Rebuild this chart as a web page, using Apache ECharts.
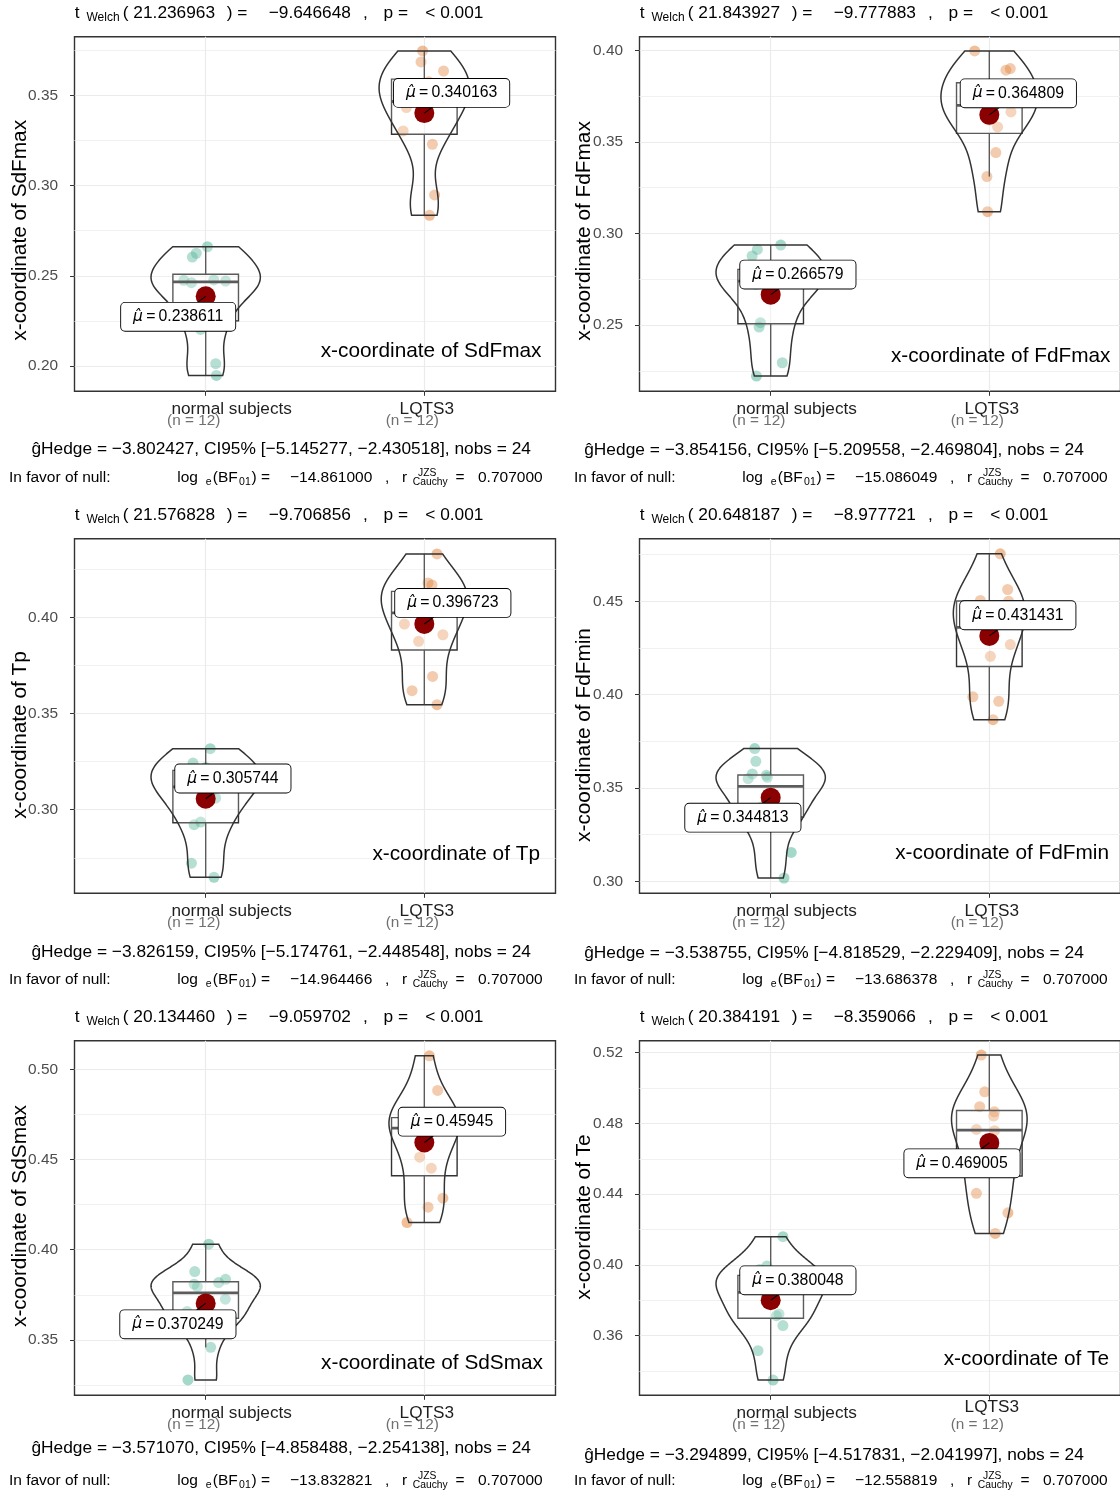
<!DOCTYPE html>
<html><head><meta charset="utf-8">
<script src="https://cdn.jsdelivr.net/npm/echarts@6/dist/echarts.min.js"></script>
<style>html,body{margin:0;padding:0;background:#fff}#c{width:1120px;height:1496px}</style>
</head><body><div id="c"></div>
<script>
// ---------------- data ----------------
const categories = ["normal subjects", "LQTS3"];
const groupN = [12, 12];
const panelVariables = ["SdFmax", "FdFmax", "Tp", "FdFmin", "SdSmax", "Te"];

const sdfmaxNormal = [0.2661, 0.2625, 0.2604, 0.2475, 0.2462, 0.2477, 0.2471, 0.2203, 0.2013, 0.1948, 0.2266, 0.2410];
const sdfmaxNormalJitter = [0.008, -0.043, -0.061, -0.100, -0.065, 0.037, 0.091, -0.023, 0.046, 0.049, -0.030, 0.010];
const sdfmaxLqts3 = [0.3746, 0.3685, 0.3635, 0.3552, 0.3432, 0.3303, 0.3229, 0.2948, 0.2835, 0.3420, 0.3500, 0.3575];
const sdfmaxLqts3Jitter = [-0.008, -0.015, 0.088, 0.050, -0.082, -0.097, 0.037, 0.047, 0.024, 0.010, -0.040, 0.020];

const fdfmaxNormal = [0.2937, 0.2913, 0.2877, 0.2722, 0.2513, 0.2489, 0.2294, 0.2221, 0.2780, 0.2765, 0.2745, 0.2734];
const fdfmaxNormalJitter = [0.046, -0.061, -0.085, -0.068, -0.047, -0.053, 0.053, -0.065, 0.040, -0.020, 0.070, 0.000];
const fdfmaxLqts3 = [0.3997, 0.3901, 0.3892, 0.3664, 0.3582, 0.3442, 0.3311, 0.3119, 0.3801, 0.3760, 0.3735, 0.3620];
const fdfmaxLqts3Jitter = [-0.067, 0.096, 0.076, 0.099, 0.038, 0.030, -0.011, -0.008, 0.050, -0.060, 0.020, 0.000];

const tpNormal = [0.3318, 0.3243, 0.3061, 0.2936, 0.2922, 0.2722, 0.2648, 0.3220, 0.3200, 0.3180, 0.3140, 0.3099];
const tpNormalJitter = [0.021, -0.058, 0.046, -0.023, -0.053, -0.065, 0.038, 0.000, -0.040, 0.060, -0.080, 0.030];
const tpLqts3 = [0.4332, 0.4181, 0.4170, 0.3967, 0.3911, 0.3877, 0.3694, 0.3620, 0.3547, 0.4126, 0.4100, 0.4082];
const tpLqts3Jitter = [0.058, 0.017, 0.035, -0.091, 0.085, -0.026, 0.038, -0.056, 0.058, 0.040, -0.050, 0.070];

const fdfminNormal = [0.3711, 0.3643, 0.3575, 0.3550, 0.3568, 0.3557, 0.3155, 0.3018, 0.3468, 0.3400, 0.3360, 0.3300];
const fdfminNormalJitter = [-0.073, -0.068, -0.084, -0.103, -0.020, -0.015, 0.094, 0.061, 0.000, -0.040, 0.050, -0.020];
const fdfminLqts3 = [0.4754, 0.4563, 0.4500, 0.4504, 0.4268, 0.4205, 0.3988, 0.3964, 0.3866, 0.4470, 0.4405, 0.4315];
const fdfminLqts3Jitter = [0.050, 0.084, 0.088, -0.041, 0.096, 0.005, -0.075, 0.043, 0.017, -0.020, 0.060, 0.000];

const sdsmaxNormal = [0.4031, 0.3879, 0.3809, 0.3796, 0.3818, 0.3836, 0.3726, 0.3657, 0.3459, 0.3278, 0.3605, 0.3625];
const sdsmaxNormalJitter = [0.014, -0.050, -0.053, -0.038, 0.059, 0.091, 0.090, -0.085, 0.023, -0.081, -0.030, 0.040];
const sdsmaxLqts3 = [0.5075, 0.4883, 0.4513, 0.4452, 0.4286, 0.4236, 0.4151, 0.4640, 0.4708, 0.4720, 0.4730, 0.4740];
const sdsmaxLqts3Jitter = [0.023, 0.061, -0.021, 0.032, 0.085, 0.017, -0.079, 0.000, -0.060, 0.080, -0.030, 0.020];

const teNormal = [0.4160, 0.3994, 0.3722, 0.3713, 0.3657, 0.3515, 0.3349, 0.3975, 0.3930, 0.3901, 0.3870, 0.3820];
const teNormalJitter = [0.056, -0.017, 0.038, 0.026, 0.056, -0.058, 0.011, -0.050, 0.070, -0.030, 0.040, -0.020];
const teLqts3 = [0.5187, 0.4979, 0.4895, 0.4866, 0.4842, 0.4766, 0.4759, 0.4405, 0.4295, 0.4178, 0.4536, 0.4573];
const teLqts3Jitter = [-0.037, -0.021, -0.044, 0.023, 0.020, -0.059, 0.024, -0.059, 0.085, 0.027, -0.050, 0.060];

const meanNormal = [0.238611, 0.266579, 0.305744, 0.344813, 0.370249, 0.380048];
const meanLqts3 = [0.340163, 0.364809, 0.396723, 0.431431, 0.45945, 0.469005];

const yMin = [0.1860, 0.2138, 0.2565, 0.2936, 0.3193, 0.3263];
const yMax = [0.3825, 0.4075, 0.4411, 0.4835, 0.5159, 0.5268];
const yTicks = [[0.20,0.25,0.30,0.35],[0.25,0.30,0.35,0.40],[0.30,0.35,0.40],[0.30,0.35,0.40,0.45],[0.35,0.40,0.45,0.50],[0.36,0.40,0.44,0.48,0.52]];
const yMinorTicks = [[0.225,0.275,0.325,0.375],[0.225,0.275,0.325,0.375],[0.275,0.325,0.375,0.425],[0.325,0.375,0.425,0.475],[0.325,0.375,0.425,0.475],[0.34,0.38,0.42,0.46,0.50]];

const tDf = ["21.236963", "21.843927", "21.576828", "20.648187", "20.134460", "20.384191"];
const tStat = ["\u22129.646648", "\u22129.777883", "\u22129.706856", "\u22128.977721", "\u22129.059702", "\u22128.359066"];
const pText = ["< 0.001", "< 0.001", "< 0.001", "< 0.001", "< 0.001", "< 0.001"];
const gHedge = ["\u22123.802427", "\u22123.854156", "\u22123.826159", "\u22123.538755", "\u22123.571070", "\u22123.294899"];
const ciLow = ["\u22125.145277", "\u22125.209558", "\u22125.174761", "\u22124.818529", "\u22124.858488", "\u22124.517831"];
const ciHigh = ["\u22122.430518", "\u22122.469804", "\u22122.448548", "\u22122.229409", "\u22122.254138", "\u22122.041997"];
const logBF01 = ["\u221214.861000", "\u221215.086049", "\u221214.964466", "\u221213.686378", "\u221213.832821", "\u221212.558819"];
const rCauchy = ["0.707000", "0.707000", "0.707000", "0.707000", "0.707000", "0.707000"];
const nobs = [24, 24, 24, 24, 24, 24];

// ---------------- layout / style ----------------
const FONT = '"Liberation Sans", Arial, Helvetica, sans-serif';
const gridLeft = [74.5, 639.5];
const gridTop = [36.7, 538.7, 1040.7];
const gridW = 481, gridH = 354.6;
const colOff = [0, 565];
const labelOffNormal = [[-27.5, 20.5], [27.2, -20.1], [27.2, -20.2], [-27.8, 20], [-27.8, 20.9], [27.2, -19.9]];
const labelOffLqts3 = [[27.3, -20.2], [29, -21.5], [28.5, -21], [28.5, -20.7], [27.6, -20.8], [-27.3, 20.4]];
const yTitlePos = [[20.6, 230.3], [584.2, 231], [20.6, 735], [584.2, 735], [20.6, 1216], [584.2, 1217]];
const innerTitlePos = [[541.5, 351.7], [1110.5, 356], [540, 854], [1109, 853], [543, 1363], [1109, 1359]];
const cap1Pos = [[281.2, 449.3], [834, 450], [281.2, 952.5], [834, 953], [281.2, 1448], [834, 1455]];
const cap2Y = [477.7, 477.7, 980, 980, 1481, 1481];
const subY = [13.5, 13.5, 515.5, 515.5, 1017.5, 1017.5];

const panelNormal = [sdfmaxNormal, fdfmaxNormal, tpNormal, fdfminNormal, sdsmaxNormal, teNormal];
const panelNormalJ = [sdfmaxNormalJitter, fdfmaxNormalJitter, tpNormalJitter, fdfminNormalJitter, sdsmaxNormalJitter, teNormalJitter];
const panelLqts3 = [sdfmaxLqts3, fdfmaxLqts3, tpLqts3, fdfminLqts3, sdsmaxLqts3, teLqts3];
const panelLqts3J = [sdfmaxLqts3Jitter, fdfmaxLqts3Jitter, tpLqts3Jitter, fdfminLqts3Jitter, sdsmaxLqts3Jitter, teLqts3Jitter];

// ---------------- statistics helpers ----------------
function quantile7(s, p) {
  const h = (s.length - 1) * p, lo = Math.floor(h), hi = Math.min(lo + 1, s.length - 1);
  return s[lo] + (h - lo) * (s[hi] - s[lo]);
}
function groupStats(vals) {
  const s = vals.slice().sort((a, b) => a - b), n = s.length;
  const q1 = quantile7(s, 0.25), med = quantile7(s, 0.5), q3 = quantile7(s, 0.75), iqr = q3 - q1;
  const lo = s.find(v => v >= q1 - 1.5 * iqr);
  const hi = s.slice().reverse().find(v => v <= q3 + 1.5 * iqr);
  const m = s.reduce((a, b) => a + b, 0) / n;
  const sd = Math.sqrt(s.reduce((a, v) => a + (v - m) * (v - m), 0) / (n - 1));
  const bw = 0.9 * Math.min(sd, iqr / 1.34) * Math.pow(n, -0.2);
  const dens = [], N = 512;
  for (let i = 0; i < N; i++) {
    const y = s[0] + (s[n - 1] - s[0]) * i / (N - 1);
    let d = 0;
    for (const v of s) { const z = (y - v) / bw; d += Math.exp(-0.5 * z * z); }
    dens.push([y, d / (n * bw * Math.sqrt(2 * Math.PI))]);
  }
  return { q1, med, q3, lo, hi, dens };
}

const grids = [], xAxes = [], yAxes = [], series = [], graphics = [];

function addText(x, y, text, size, o) {
  o = o || {};
  graphics.push({
    type: 'text', x: x, y: y, rotation: o.rotation || 0, silent: true, z: 10,
    style: { text: text, fontSize: size, fontFamily: FONT, fill: o.color || '#000',
      align: o.align || 'left', verticalAlign: 'middle' }
  });
}

for (let p = 0; p < 6; p++) {
  const col = p % 2, row = Math.floor(p / 2);
  grids.push({ left: gridLeft[col], top: gridTop[row], width: gridW, height: gridH,
    show: true, borderColor: '#333', borderWidth: 1.4, backgroundColor: 'transparent',
    containLabel: false, outerBoundsMode: 'none' });

  xAxes.push({
    gridIndex: p, type: 'value', min: 0.4, max: 2.6,
    axisLine: { show: false },
    axisTick: { show: true, length: 4.5, lineStyle: { color: '#333', width: 1 }, customValues: [1, 2] },
    splitLine: { show: true, lineStyle: { color: '#ebebeb', width: 1.2 } },
    axisLabel: {
      customValues: [1, 2], margin: 6,
      formatter: function (v) {
        const i = Math.round(v) - 1;
        const first = i === 0 ? 'a' : (p === 5 ? 'bt' : 'b');
        return '{' + first + '|' + categories[i] + '}\n{n|(n = ' + groupN[i] + ')}';
      },
      rich: {
        a: { fontSize: 17.2, fontFamily: FONT, color: '#1f1f1f', lineHeight: 12, align: 'center', padding: [12, 0, 0, 52] },
        b: { fontSize: 17.2, fontFamily: FONT, color: '#1f1f1f', lineHeight: 12, align: 'center', padding: [12, 0, 0, 5] },
        bt: { fontSize: 17.2, fontFamily: FONT, color: '#1f1f1f', lineHeight: 12, align: 'center', padding: [0, 0, 0, 5] },
        n: { fontSize: 15.35, fontFamily: FONT, color: '#707070', lineHeight: 12, align: 'center', padding: [11, 24, 0, 0] }
      }
    }
  });

  yAxes.push({
    gridIndex: p, type: 'value', min: yMin[p], max: yMax[p],
    axisLine: { show: false },
    axisTick: { show: true, length: 4.5, lineStyle: { color: '#333', width: 1 }, customValues: yTicks[p] },
    axisLabel: { customValues: yTicks[p], formatter: v => v.toFixed(2), color: '#4d4d4d', fontSize: 15.4, fontFamily: FONT, margin: 16.5 },
    splitLine: { show: true, lineStyle: { color: '#ebebeb', width: 1.2 } }
  });
  yAxes.push({
    gridIndex: p, type: 'value', min: yMin[p], max: yMax[p], position: 'left',
    axisLine: { show: false },
    axisTick: { show: false, customValues: yMinorTicks[p] },
    axisLabel: { show: false, customValues: yMinorTicks[p] },
    splitLine: { show: true, lineStyle: { color: '#efefef', width: 0.9 } }
  });

  const groups = [panelNormal[p], panelLqts3[p]];
  const jit = [panelNormalJ[p], panelLqts3J[p]];
  const colors = ['rgba(27,158,119,0.5)', 'rgba(217,95,2,0.5)'];
  for (let g = 0; g < 2; g++) {
    series.push({
      type: 'scatter', xAxisIndex: p, yAxisIndex: 2 * p, silent: true, z: 2,
      symbol: 'circle', symbolSize: 11, itemStyle: { color: colors[g], borderWidth: 0 },
      data: groups[g].map((v, k) => [g + 1 + jit[g][k], v])
    });
  }

  const stats = groups.map(groupStats);
  const maxD = Math.max(...stats.map(s => Math.max(...s.dens.map(d => d[1]))));
  stats.forEach(s => { s.w = s.dens.map(d => [d[0], d[1] / maxD * 0.25]); });

  series.push({
    type: 'custom', xAxisIndex: p, yAxisIndex: 2 * p, silent: true, z: 3,
    data: [[1, stats[0].med], [2, stats[1].med]],
    encode: { x: 0, y: 1 },
    renderItem: function (params, api) {
      const g = params.dataIndex, st = stats[g], cx = g + 1;
      const right = st.w.map(d => api.coord([cx + d[1], d[0]]));
      const left = st.w.slice().reverse().map(d => api.coord([cx - d[1], d[0]]));
      const b1 = api.coord([cx - 0.15, st.q3]), b2 = api.coord([cx + 0.15, st.q1]);
      const m1 = api.coord([cx - 0.15, st.med]), m2 = api.coord([cx + 0.15, st.med]);
      const w1 = api.coord([cx, st.q3]), w2 = api.coord([cx, st.hi]);
      const w3 = api.coord([cx, st.q1]), w4 = api.coord([cx, st.lo]);
      const ls = { stroke: '#333', lineWidth: 1.4 };
      return { type: 'group', children: [
        { type: 'line', shape: { x1: w1[0], y1: w1[1], x2: w2[0], y2: w2[1] }, style: ls },
        { type: 'line', shape: { x1: w3[0], y1: w3[1], x2: w4[0], y2: w4[1] }, style: ls },
        { type: 'rect', shape: { x: b1[0], y: b1[1], width: b2[0] - b1[0], height: b2[1] - b1[1] },
          style: { fill: 'rgba(255,255,255,0.2)', stroke: '#333', lineWidth: 1.4 } },
        { type: 'line', shape: { x1: m1[0], y1: m1[1], x2: m2[0], y2: m2[1] }, style: { stroke: '#333', lineWidth: 2.8 } },
        { type: 'polygon', shape: { points: right.concat(left) },
          style: { fill: 'rgba(255,255,255,0.2)', stroke: '#333', lineWidth: 1.5 } }
      ] };
    }
  });

  const means = [meanNormal[p], meanLqts3[p]];
  const offs = [labelOffNormal[p], labelOffLqts3[p]];
  series.push({
    type: 'custom', xAxisIndex: p, yAxisIndex: 2 * p, silent: true, z: 4,
    data: [[1, means[0]], [2, means[1]]],
    encode: { x: 0, y: 1 },
    renderItem: function (params, api) {
      const g = params.dataIndex;
      const c = api.coord([g + 1, means[g]]);
      const dx = offs[g][0], dy = offs[g][1];
      const t = Math.max(0, (Math.abs(dy) - 14) / Math.abs(dy));
      return { type: 'group', children: [
        { type: 'circle', shape: { cx: c[0], cy: c[1], r: 10 }, style: { fill: '#8b0000' } },
        { type: 'line', shape: { x1: c[0], y1: c[1], x2: c[0] + dx * t, y2: c[1] + dy * t }, style: { stroke: '#000', lineWidth: 1.1 } },
        { type: 'text', x: c[0] + dx, y: c[1] + dy, z2: 5,
          style: { text: '{mu|\u03bc\u0302}{v|\u2009=\u2009' + String(means[g]) + '}', align: 'center', verticalAlign: 'middle',
            fontSize: 15.8, fontFamily: FONT, fill: '#000', backgroundColor: '#fff',
            borderColor: '#000', borderWidth: 0.9, borderRadius: 4, padding: [5, 12, 5, 12], lineHeight: 18,
            rich: {
              mu: { fontFamily: '"DejaVu Sans", sans-serif', fontSize: 15.5, fontStyle: 'italic', lineHeight: 18, fill: '#000' },
              v: { fontFamily: FONT, fontSize: 15.8, lineHeight: 18, fill: '#000' }
            } } }
      ] };
    }
  });

  // texts
  const ox = colOff[col];
  const sy = subY[p];
  addText(ox + 74.7, sy, 't', 17.3);
  addText(ox + 86.5, sy + 4, 'Welch', 12);
  addText(ox + 122.8, sy, '( ' + tDf[p], 17.3);
  addText(ox + 226.7, sy, ') =', 17.3);
  addText(ox + 268.7, sy, tStat[p], 17.3);
  addText(ox + 363, sy, ',', 17.3);
  addText(ox + 383.6, sy, 'p =', 17.3);
  addText(ox + 425.3, sy, pText[p], 17.3);

  addText(cap1Pos[p][0], cap1Pos[p][1], '\u011dHedge = ' + gHedge[p] + ', CI95% [' + ciLow[p] + ', ' + ciHigh[p] + '], nobs = ' + nobs[p], 17.33, { align: 'center' });

  const cy = cap2Y[p];
  addText(ox + 8.9, cy, 'In favor of null:', 15.5);
  addText(ox + 177.2, cy, 'log', 15.5);
  addText(ox + 205.7, cy + 4.5, 'e', 10.5);
  addText(ox + 212.8, cy, '(BF', 15.5);
  addText(ox + 239.1, cy + 4.5, '01', 10.5);
  addText(ox + 251.5, cy, ') =', 15.5);
  addText(ox + 290, cy, logBF01[p], 15.5);
  addText(ox + 385, cy, ',', 15.5);
  addText(ox + 402.1, cy, 'r', 15.5);
  addText(ox + 418, cy - 4.4, 'JZS', 10.3);
  addText(ox + 412.8, cy + 4.6, 'Cauchy', 10.3);
  addText(ox + 455.5, cy, '=', 15.5);
  addText(ox + 478, cy, rCauchy[p], 15.5);

  addText(yTitlePos[p][0], yTitlePos[p][1], 'x-coordinate of ' + panelVariables[p], 20.8, { align: 'center', rotation: Math.PI / 2 });
  addText(innerTitlePos[p][0], innerTitlePos[p][1], 'x-coordinate of ' + panelVariables[p], 20.8, { align: 'right' });
}

const chart = echarts.init(document.getElementById('c'), null, { renderer: 'canvas' });
chart.setOption({
  animation: false,
  backgroundColor: '#fff',
  grid: grids, xAxis: xAxes, yAxis: yAxes, series: series, graphic: graphics
});
</script></body></html>
